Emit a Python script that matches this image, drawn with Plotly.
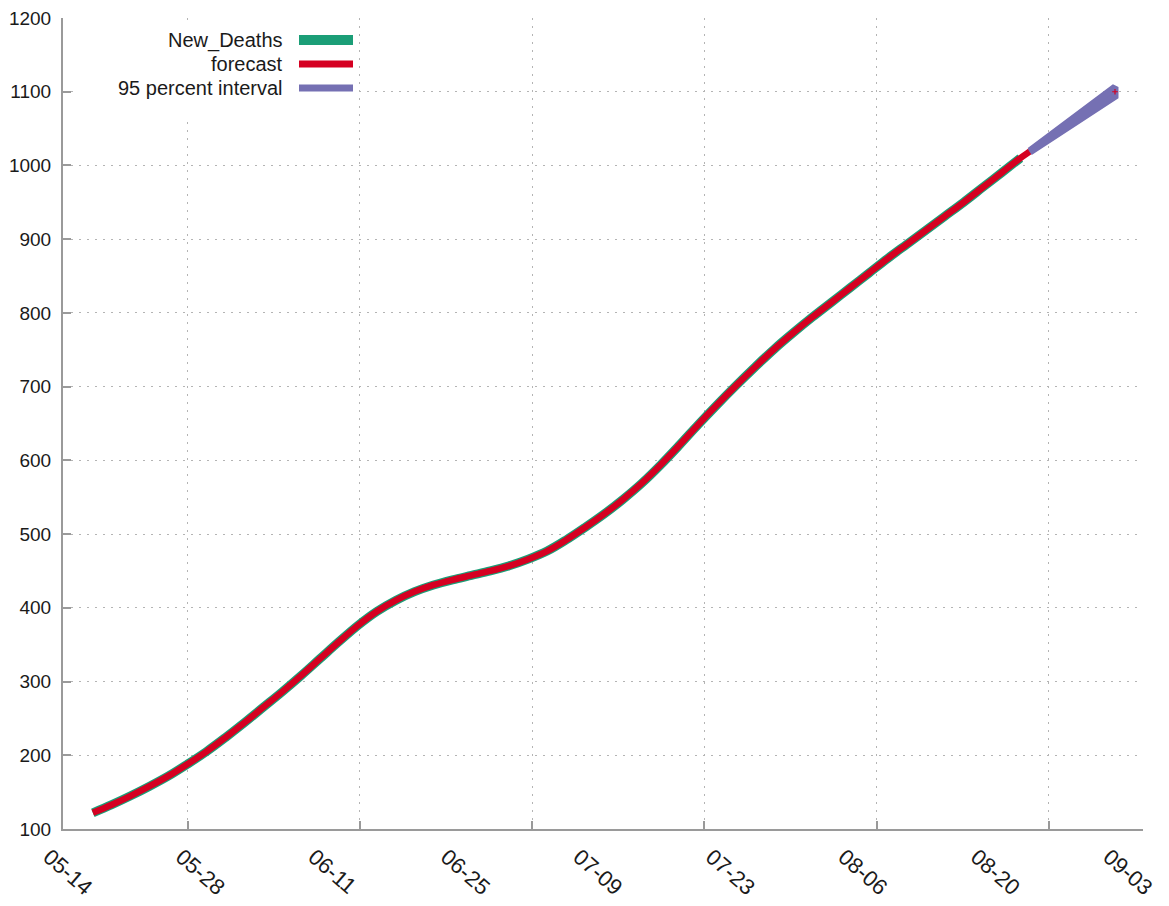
import pandas as pd
import plotly.graph_objects as go

# ---- data -------------------------------------------------------------
obs_dates = pd.date_range("2020-05-18", "2020-08-24", freq="2D")
new_deaths = [122, 133, 145, 158, 172, 188, 205, 224, 244, 265,
              286, 308, 331, 354, 376, 395, 410, 422, 431, 438,
              444, 450, 457, 466, 477, 492, 509, 527, 547, 569,
              594, 621, 649, 676, 702, 727, 751, 773, 794, 814,
              834, 854, 874, 893, 912, 931, 950, 970, 990, 1010]

# in-sample fit of the model (sits on top of the observed curve)
fitted = [122, 133, 145, 158, 172, 188, 205, 224, 244, 265,
          286, 308, 331, 354, 376, 395, 410, 422, 431, 438,
          444, 450, 457, 466, 477, 492, 509, 527, 547, 569,
          594, 621, 649, 676, 702, 727, 751, 773, 794, 814,
          834, 854, 874, 893, 912, 931, 950, 970, 990, 1010]

fc_dates = pd.date_range("2020-08-25", "2020-09-03", freq="D")
forecast = [1019, 1028, 1037, 1046, 1055, 1064, 1073, 1082, 1091, 1100]
lower_95 = [1018, 1026.4, 1034.8, 1043.2, 1051.6, 1060, 1068.4, 1076.8, 1085.2, 1093.6]
upper_95 = [1020, 1029.6, 1039.2, 1048.8, 1058.4, 1068, 1077.6, 1087.2, 1096.8, 1106.4]

label_dates = ["2020-05-14", "2020-05-28", "2020-06-11", "2020-06-25", "2020-07-09",
               "2020-07-23", "2020-08-06", "2020-08-20", "2020-09-03"]
label_text = ["05-14", "05-28", "06-11", "06-25", "07-09",
              "07-23", "08-06", "08-20", "09-03"]
grid_dates = ["2020-05-28 00:00", "2020-06-15 04:48", "2020-07-03 09:36",
              "2020-07-21 14:24", "2020-08-08 19:12", "2020-08-27 00:00"]
y_ticks = list(range(100, 1201, 100))

x_range = ["2020-05-14 20:17", "2020-09-05 23:00"]

# ---- styling ------------------------------------------------------------
GREEN = "#1b9e77"
RED = "#d50021"
PURPLE = "#7570b3"
AXIS = "#9a9a9a"
GRID = "#b4b4b4"
TEXT = "#1a1a1a"
FONT = "Liberation Sans, Arial, sans-serif"
DOTS = "2px,6px"

W, H = 1169, 906
ML, MR, MT, MB = 40, 26, 18, 77
AXIS_LEFT = 63                      # y axis sits here (px)
plot_w = W - ML - MR
plot_h = H - MT - MB
x_dom0 = (AXIS_LEFT - ML) / plot_w


def px_x(p):
    return (p - ML) / plot_w


def px_y(p):
    return (H - MB - p) / plot_h


# label axis spans a wider domain with the same date scale
r0, r1 = pd.Timestamp(x_range[0]), pd.Timestamp(x_range[1])
span = r1 - r0
x2_start = r0 - span * ((AXIS_LEFT - ML) / (plot_w * (1 - x_dom0)))

fig = go.Figure()

fig.add_trace(go.Scatter(x=obs_dates, y=new_deaths, mode="lines",
                         line=dict(color=GREEN, width=9, shape="spline"),
                         name="New_Deaths", hoverinfo="skip"))
fig.add_trace(go.Scatter(x=list(obs_dates) + list(fc_dates), y=fitted + forecast,
                         mode="lines",
                         line=dict(color=RED, width=6.5, shape="spline"),
                         name="forecast", hoverinfo="skip"))
fig.add_trace(go.Scatter(x=list(fc_dates) + list(fc_dates[::-1]),
                         y=upper_95 + lower_95[::-1],
                         mode="lines", fill="toself", fillcolor=PURPLE,
                         line=dict(color=PURPLE, width=7),
                         name="95 percent interval", hoverinfo="skip"))
fig.add_trace(go.Scatter(x=[fc_dates[-1]], y=[forecast[-1]], mode="markers",
                         marker=dict(symbol="cross-thin", size=4,
                                     line=dict(color=RED, width=1.2)),
                         showlegend=False, hoverinfo="skip"))
# holder for the date-label axis
fig.add_trace(go.Scatter(x=[], y=[], xaxis="x2", yaxis="y2",
                         showlegend=False, hoverinfo="skip"))

fig.update_layout(
    width=W, height=H,
    margin=dict(l=ML, r=MR, t=MT, b=MB, autoexpand=False),
    paper_bgcolor="white",
    plot_bgcolor="rgba(0,0,0,0)",
    showlegend=False,
    font=dict(family=FONT, color=TEXT, size=19),
    xaxis=dict(
        type="date", range=x_range, domain=[x_dom0, 1], automargin=False,
        tickmode="array", tickvals=grid_dates, showticklabels=False,
        ticks="inside", ticklen=8, tickwidth=1.5, tickcolor=AXIS,
        showline=True, linecolor=AXIS, linewidth=2,
        showgrid=True, gridcolor=GRID, griddash=DOTS, gridwidth=1.2,
        zeroline=False, anchor="y",
    ),
    yaxis=dict(
        range=[100, 1200], tickmode="array", tickvals=y_ticks, automargin=False,
        ticks="inside", ticklen=8, tickwidth=1.5, tickcolor=AXIS,
        showline=True, linecolor=AXIS, linewidth=2,
        showgrid=True, gridcolor=GRID, griddash=DOTS, gridwidth=1.2,
        zeroline=False, anchor="x", ticklabelstandoff=6,
        tickfont=dict(size=19, color=TEXT),
    ),
    xaxis2=dict(
        type="date", range=[x2_start, r1], domain=[0, 1], anchor="y2",
        automargin=False,
        tickmode="array", tickvals=label_dates, ticktext=label_text,
        tickangle=41, tickfont=dict(size=22, color=TEXT),
        showline=False, showgrid=False, zeroline=False, ticks="",
        ticklabelstandoff=10, ticklabelshift=-6,
    ),
    yaxis2=dict(domain=[0, 1], anchor="x2", range=[0, 1], visible=False,
                automargin=False),
)

# legend: white box over the grid, right-aligned names and colour swatches
fig.add_shape(type="rect", xref="paper", yref="paper", layer="above",
              x0=px_x(73), x1=px_x(357), y0=px_y(120), y1=px_y(25),
              fillcolor="white", line=dict(width=0))
legend_rows = [("New_Deaths", GREEN, 10, 40),
               ("forecast", RED, 7, 64),
               ("95 percent interval", PURPLE, 7, 88)]
for name, color, lw, ypx in legend_rows:
    fig.add_annotation(x=px_x(285), y=px_y(ypx), xref="paper", yref="paper",
                       text=name, showarrow=False, xanchor="right",
                       yanchor="middle", font=dict(size=20, color=TEXT))
    fig.add_shape(type="line", xref="paper", yref="paper", layer="above",
                  x0=px_x(299), x1=px_x(353), y0=px_y(ypx), y1=px_y(ypx),
                  line=dict(color=color, width=lw))

fig.write_html("out.html")
